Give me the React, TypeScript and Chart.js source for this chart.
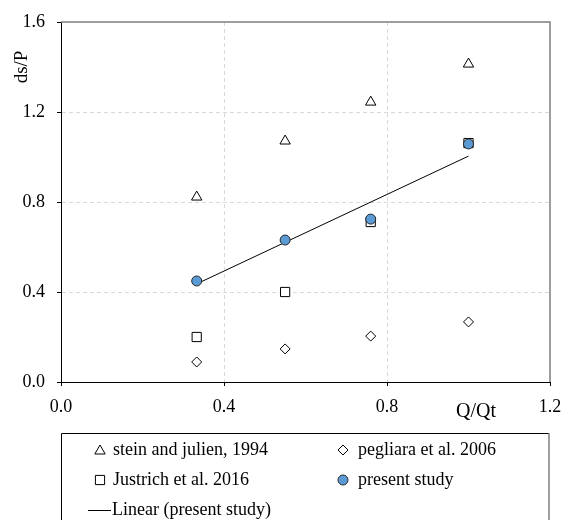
import React, { useEffect, useRef } from 'react';
import { Chart, registerables } from 'chart.js';

Chart.register(...registerables);

// ---- data ----
const qRatio = [0.333, 0.55, 0.76, 1.0];
const steinJulien = [0.822, 1.071, 1.244, 1.413];
const pegliara = [0.089, 0.147, 0.204, 0.267];
const justrich = [0.2, 0.4, 0.711, 1.062];
const presentStudy = [0.449, 0.631, 0.724, 1.058];
const linearX = [0.333, 1.0];
const linearY = [0.436, 1.004];
const xTicks = [0, 0.4, 0.8, 1.2];
const yTicks = [0, 0.4, 0.8, 1.2, 1.6];
const seriesLabels = [
  'stein and julien, 1994',
  'pegliara et al. 2006',
  'Justrich et al. 2016',
  'present study',
  'Linear (present study)',
];
const xTitle = 'Q/Qt';
const yTitle = 'ds/P';

const FONT = "'Liberation Serif', 'Times New Roman', serif";
const BLUE = '#5B9BD5';

const toPts = (xs: number[], ys: number[]) => xs.map((x, i) => ({ x, y: ys[i] }));

function drawMarker(ctx: CanvasRenderingContext2D, kind: string, x: number, y: number) {
  ctx.save();
  ctx.lineWidth = 1;
  ctx.strokeStyle = '#000';
  ctx.fillStyle = '#fff';
  ctx.beginPath();
  if (kind === 'triangle') {
    const r = 6;
    for (let k = 0; k < 3; k++) {
      const a = (k * 2 * Math.PI) / 3;
      const px = x + Math.sin(a) * r;
      const py = y - Math.cos(a) * r;
      if (k === 0) ctx.moveTo(px, py);
      else ctx.lineTo(px, py);
    }
    ctx.closePath();
  } else if (kind === 'rectRot') {
    const r = 5;
    ctx.moveTo(x - r, y);
    ctx.lineTo(x, y - r);
    ctx.lineTo(x + r, y);
    ctx.lineTo(x, y + r);
    ctx.closePath();
  } else if (kind === 'rect') {
    const s = 4.6;
    ctx.rect(x - s, y - s, 2 * s, 2 * s);
  } else if (kind === 'circle') {
    ctx.fillStyle = BLUE;
    ctx.strokeStyle = '#262626';
    ctx.arc(x, y, 5, 0, Math.PI * 2);
  }
  ctx.fill();
  ctx.stroke();
  ctx.restore();
}

const decorPlugin = {
  id: 'decor',
  afterDraw(chart: any) {
    const ctx: CanvasRenderingContext2D = chart.ctx;
    const { left, right, top, bottom } = chart.chartArea;
    ctx.save();
    // top & right frame
    ctx.strokeStyle = '#7f7f7f';
    ctx.lineWidth = 1.5;
    ctx.beginPath();
    ctx.moveTo(left, top);
    ctx.lineTo(right, top);
    ctx.lineTo(right, bottom);
    ctx.stroke();

    // axis titles
    ctx.fillStyle = '#000';
    ctx.font = `20px ${FONT}`;
    ctx.textAlign = 'center';
    ctx.textBaseline = 'alphabetic';
    ctx.fillText(xTitle, 476, 417);
    ctx.save();
    ctx.translate(27, 67);
    ctx.rotate(-Math.PI / 2);
    ctx.font = `19px ${FONT}`;
    ctx.fillText(yTitle, 0, 0);
    ctx.restore();

    // legend box
    const lx = 61, ly = 433, rx = 549, by = 530;
    ctx.lineWidth = 1;
    ctx.strokeStyle = '#000';
    ctx.beginPath();
    ctx.moveTo(lx + 0.5, by);
    ctx.lineTo(lx + 0.5, ly + 0.5);
    ctx.lineTo(rx, ly + 0.5);
    ctx.stroke();
    ctx.strokeStyle = '#7f7f7f';
    ctx.lineWidth = 1.5;
    ctx.beginPath();
    ctx.moveTo(rx, ly);
    ctx.lineTo(rx, by);
    ctx.stroke();

    ctx.font = `18px ${FONT}`;
    ctx.textAlign = 'left';
    ctx.textBaseline = 'middle';
    ctx.fillStyle = '#000';
    const rows = [450, 480, 510];
    const items = [
      { kind: 'triangle', label: seriesLabels[0], sx: 100, tx: 113, y: rows[0] },
      { kind: 'rectRot', label: seriesLabels[1], sx: 343, tx: 358, y: rows[0] },
      { kind: 'rect', label: seriesLabels[2], sx: 100, tx: 113, y: rows[1] },
      { kind: 'circle', label: seriesLabels[3], sx: 343, tx: 358, y: rows[1] },
    ];
    for (const it of items) {
      drawMarker(ctx, it.kind, it.sx, it.kind === 'triangle' ? it.y + 1 : it.y);
      ctx.fillText(it.label, it.tx, it.y);
    }
    ctx.strokeStyle = '#000';
    ctx.lineWidth = 1;
    ctx.beginPath();
    ctx.moveTo(88, rows[2] + 0.5);
    ctx.lineTo(111, rows[2] + 0.5);
    ctx.stroke();
    ctx.fillText(seriesLabels[4], 112, rows[2]);
    ctx.restore();
  },
};

export default function App() {
  const ref = useRef<HTMLCanvasElement | null>(null);
  useEffect(() => {
    document.body.style.margin = '0';
    const canvas = ref.current!;
    const gridColor = (c: any) => {
      const n = c.chart && c.scale ? c.scale.ticks.length : 0;
      if (c.index === 0 || c.index === n - 1) return 'rgba(0,0,0,0)';
      return '#d9d9d9';
    };
    const chart = new Chart(canvas, {
      type: 'scatter',
      data: {
        datasets: [
          {
            label: seriesLabels[3],
            data: toPts(qRatio, presentStudy),
            pointStyle: 'circle',
            pointRadius: 5,
            backgroundColor: BLUE,
            borderColor: '#262626',
            borderWidth: 1,
            order: 0,
          },
          {
            label: seriesLabels[4],
            data: toPts(linearX, linearY),
            showLine: true,
            pointRadius: 0,
            borderColor: '#000',
            borderWidth: 1,
            order: 1,
          },
          {
            label: seriesLabels[2],
            data: toPts(qRatio, justrich),
            pointStyle: 'rect',
            pointRadius: 6.5,
            backgroundColor: '#fff',
            borderColor: '#000',
            borderWidth: 1,
            order: 2,
          },
          {
            label: seriesLabels[1],
            data: toPts(qRatio, pegliara),
            pointStyle: 'rectRot',
            pointRadius: 5,
            backgroundColor: '#fff',
            borderColor: '#000',
            borderWidth: 1,
            order: 3,
          },
          {
            label: seriesLabels[0],
            data: toPts(qRatio, steinJulien),
            pointStyle: 'triangle',
            pointRadius: 6,
            backgroundColor: '#fff',
            borderColor: '#000',
            borderWidth: 1,
            order: 4,
          },
        ],
      },
      options: {
        animation: false,
        responsive: false,
        maintainAspectRatio: false,
        layout: { padding: { left: 0, top: 22, right: 13, bottom: 98 } },
        plugins: { legend: { display: false }, tooltip: { enabled: false } },
        scales: {
          x: {
            type: 'linear',
            min: 0,
            max: 1.2,
            afterBuildTicks: (s: any) => {
              s.ticks = xTicks.map((v) => ({ value: v }));
            },
            afterFit: (s: any) => {
              s.height = 40;
              s.paddingLeft = 0;
              s.paddingRight = 0;
            },
            grid: {
              color: gridColor,
              lineWidth: 1,
              tickLength: 4,
              tickColor: '#000',
            },
            border: { display: true, color: '#000', width: 1, dash: [4, 3] },
            ticks: {
              color: '#000',
              font: { family: FONT, size: 18 },
              padding: 10,
              maxRotation: 0,
              autoSkip: false,
              callback: (v: any) => Number(v).toFixed(1),
            },
          },
          y: {
            type: 'linear',
            min: 0,
            max: 1.6,
            afterBuildTicks: (s: any) => {
              s.ticks = yTicks.map((v) => ({ value: v }));
            },
            afterFit: (s: any) => {
              s.width = 61;
              s.paddingTop = 0;
              s.paddingBottom = 0;
            },
            grid: {
              color: gridColor,
              lineWidth: 1,
              tickLength: 4,
              tickColor: '#000',
            },
            border: { display: true, color: '#000', width: 1, dash: [4, 3] },
            ticks: {
              color: '#000',
              font: { family: FONT, size: 18 },
              padding: 12,
              autoSkip: false,
              callback: (v: any) => Number(v).toFixed(1),
            },
          },
        },
      },
      plugins: [decorPlugin],
    });
    return () => chart.destroy();
  }, []);
  return (
    <div style={{ width: 563, height: 520, background: '#fff' }}>
      <canvas ref={ref} width={563} height={520} style={{ display: 'block', width: 563, height: 520 }} />
    </div>
  );
}
